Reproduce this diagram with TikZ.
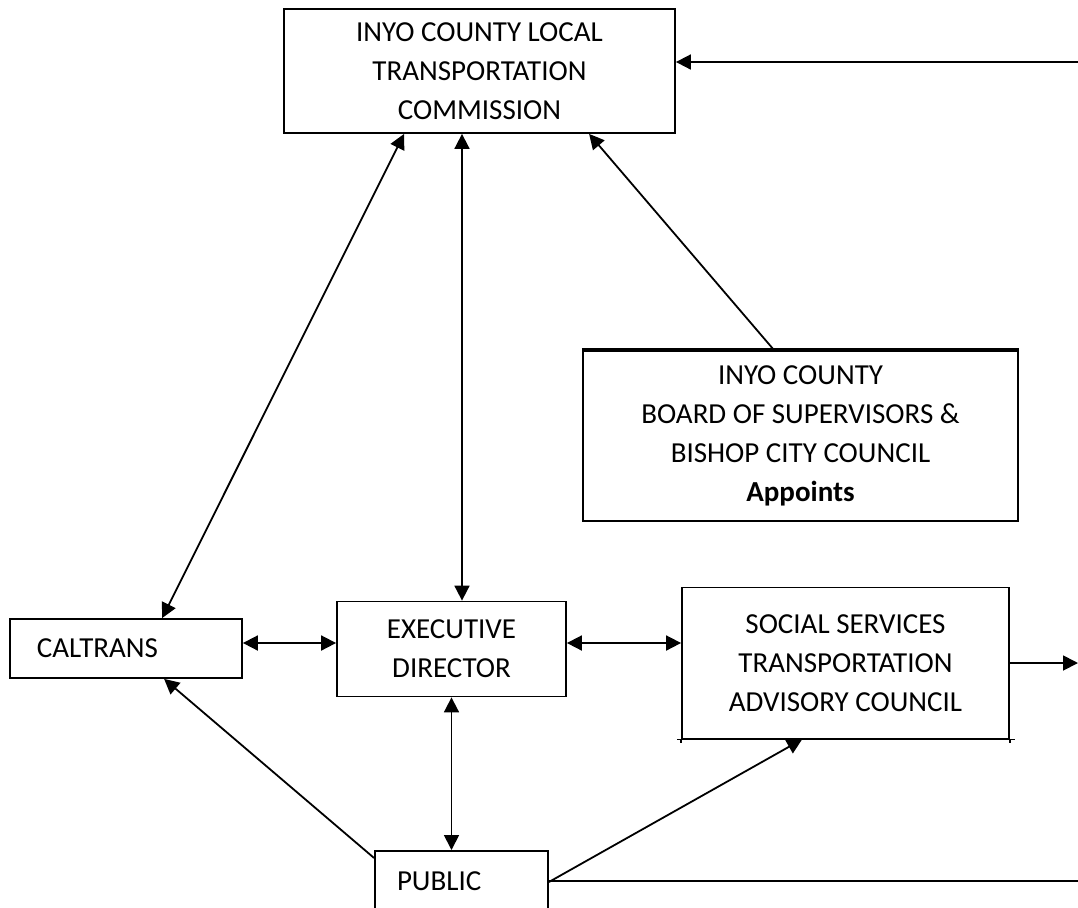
\documentclass[tikz,border=0pt]{standalone}
\usepackage{fontspec}
\setmainfont{Carlito}
\usetikzlibrary{arrows.meta}
\tikzstyle{agency}=[rectangle, draw, line width=0.9pt, inner sep=0pt, align=center, font=\fontsize{14.5}{19.5}\selectfont]
\tikzstyle{agencyleft}=[agency, align=left]
\tikzstyle{link}=[line width=0.9pt, -{Triangle[length=7.5pt,width=7.5pt]}]
\tikzstyle{twoway}=[line width=0.9pt, {Triangle[length=7.5pt,width=7.5pt]}-{Triangle[length=7.5pt,width=7.5pt]}]

\begin{document}
\begin{tikzpicture}[x=0.5pt,y=-0.5pt]
  \path[use as bounding box, clip] (0,0) rectangle (1078,907);
  \node[agency, minimum width=195.5pt, minimum height=62pt] (ltc) at (479.5,71)
    {INYO COUNTY LOCAL\\TRANSPORTATION\\COMMISSION};
  \node[agency, line width=1.2pt, minimum width=217.5pt, minimum height=85pt] (board) at (800.5,436)
    {INYO COUNTY\\BOARD OF SUPERVISORS \&\\BISHOP CITY COUNCIL\\\textbf{Appoints}};
  \node[agencyleft, minimum width=116pt, minimum height=29.5pt, text width=89pt, inner xsep=13.5pt] (caltrans) at (126,648.5)
    {CALTRANS};
  \node[agency, minimum width=114.5pt, minimum height=47.5pt] (exec) at (451.5,649)
    {EXECUTIVE\\DIRECTOR};
  \node[agency, minimum width=163.5pt, minimum height=75.5pt] (sstac) at (845.5,663)
    {SOCIAL SERVICES\\TRANSPORTATION\\ADVISORY COUNCIL};
  \node[agencyleft, anchor=north, minimum width=86.5pt, minimum height=30pt, text width=64.5pt, inner xsep=11pt] (public) at (461.5,850)
    {PUBLIC};
  \coordinate (topright) at (1078,62);
  \coordinate (midright) at (1078,663);
  \coordinate (lowright) at (1078,881);

  % box details
  \draw[line width=1.8pt] (board.north west) -- (board.north east);
  \draw[line width=0.9pt] ([xshift=-2pt]sstac.south west) -- ([xshift=2.5pt]sstac.south east);
  \draw[line width=0.9pt] (sstac.south west) -- ++(0,4);
  \draw[line width=0.9pt] (sstac.south east) -- ++(0,4);

  % connectors
  \draw[link] (topright) -- (ltc.east |- topright);
  \draw[twoway] ([xshift=60.5pt]ltc.south west) -- ([xshift=76.5pt]caltrans.north west);
  \draw[twoway] ([xshift=5.25pt]exec.north) -- ([xshift=5.25pt]exec.north |- ltc.south);
  \draw[link] ([xshift=96pt]board.north west) -- ([xshift=153pt]ltc.south west);
  \draw[twoway] ([yshift=2.75pt]caltrans.east) -- ([yshift=2.75pt]caltrans.east -| exec.west);
  \draw[twoway] ([yshift=3pt]exec.east) -- ([yshift=3pt]exec.east -| sstac.west);
  \draw[link] (sstac.east |- midright) -- (midright);
  \draw[twoway] (exec.south) -- (exec.south |- public.north);
  \draw[link] ([yshift=-4pt]public.north west) -- ([xshift=77.5pt]caltrans.south west);
  \draw[link] ([yshift=-16pt]public.north east) -- ([xshift=60.5pt]sstac.south west);
  \draw[line width=0.9pt] (public.east |- lowright) -- (lowright);
\end{tikzpicture}
\end{document}
